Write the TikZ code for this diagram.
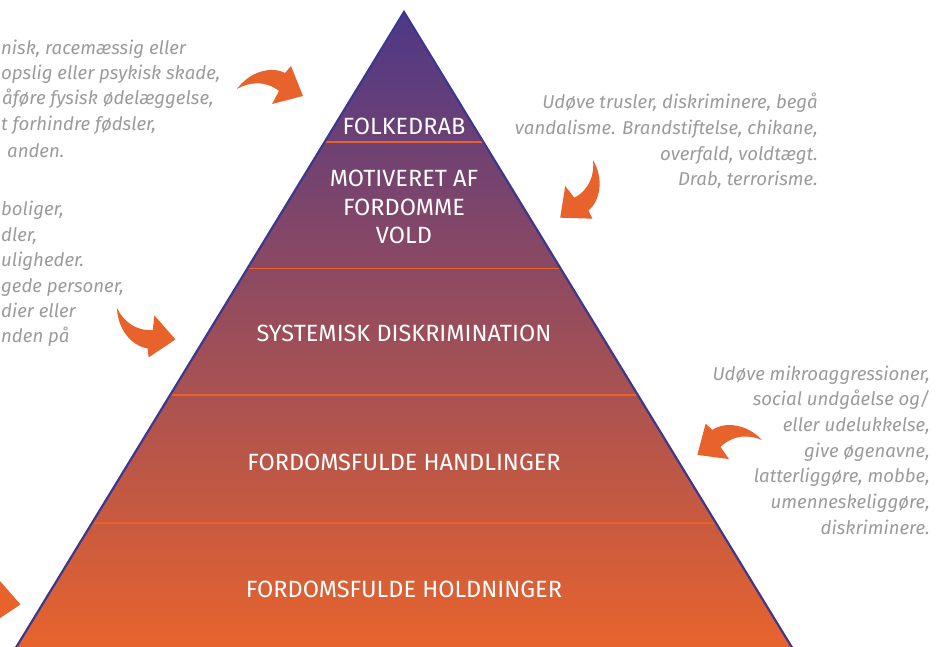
\documentclass[tikz,border=0pt]{standalone}
\usepackage{fontspec}
\setmainfont{Fira Sans}
\usetikzlibrary{calc,positioning}

\definecolor{pyrtop}{RGB}{78,56,134}
\definecolor{pyrmid}{RGB}{160,76,100}
\definecolor{pyrbot}{RGB}{234,100,44}
\definecolor{pyredge}{RGB}{62,56,140}
\definecolor{hateorange}{RGB}{232,98,44}
\definecolor{notegray}{RGB}{155,155,155}

\tikzset{
  level/.style={text=white, align=center, inner sep=0pt,
    font=\fontsize{23.5}{28.5}\selectfont},
  note/.style={text=notegray, inner sep=0pt,
    font=\fontsize{18.6}{25.7}\selectfont\itshape},
  cutnote/.style={note, anchor=mid west},
  sepline/.style={draw=hateorange, line width=1.3pt},
  pics/bentarrow/.style={code={
    \fill[hateorange] (0,0) .. controls (13,-18) and (35,-23) .. (48,-16)
      -- (54,-23) -- (66,7) -- (35,15) -- (42,2)
      .. controls (28,-9) and (12,-7) .. cycle;
  }}
}

\begin{document}
\begin{tikzpicture}[x=1pt, y=-1pt]
  \clip (0,0) rectangle (939,646);

  % Pyramid
  \coordinate (top) at (404,12);
  \coordinate (bl) at (9,659);
  \coordinate (br) at (799,659);
  \shade[top color=pyrtop, middle color=pyrmid, bottom color=pyrbot]
    (top) -- (bl) -- (br) -- cycle;
  \foreach \t in {0.201,0.396,0.592,0.790}
    \draw[sepline] ($(top)!\t!(bl)$) -- ($(top)!\t!(br)$);
  \draw[pyredge, line width=2.2pt] (top) -- (bl) -- (br) -- cycle;

  % Levels
  \node[level] (folkedrab) at (404,126) {FOLKEDRAB};
  \node[level] (vold) at (404,207) {MOTIVERET AF\\FORDOMME\\VOLD};
  \node[level] (system) at (404,333) {SYSTEMISK DISKRIMINATION};
  \node[level] (handlinger) at (404,462) {FORDOMSFULDE HANDLINGER};
  \node[level] (holdninger) at (404,589) {FORDOMSFULDE HOLDNINGER};

  % Notes
  \node[note, align=right, anchor=east] (notevold) at (818,141)
    {Udøve trusler, diskriminere, begå\\vandalisme. Brandstiftelse, chikane,\\overfald, voldtægt.\\Drab, terrorisme.};
  \node[note, align=right, anchor=east] (notehandl) at (930,450)
    {Udøve mikroaggressioner,\\social undgåelse og/\\eller udelukkelse,\\give øgenavne,\\latterliggøre, mobbe,\\umenneskeliggøre,\\diskriminere.};

  \node[cutnote] (folk1) at (1,52) {nisk, racemæssig eller};
  \node[cutnote] (folk2) at (1,77) {opslig eller psykisk skade,};
  \node[cutnote] (folk3) at (2,102) {åføre fysisk ødelæggelse,};
  \node[cutnote] (folk4) at (1,128) {t forhindre fødsler,};
  \node[cutnote] (folk5) at (7,155) {anden.};

  \node[cutnote] (sys1) at (1,213) {boliger,};
  \node[cutnote] (sys2) at (1,239) {dler,};
  \node[cutnote] (sys3) at (1,264) {uligheder.};
  \node[cutnote] (sys4) at (1,290) {gede personer,};
  \node[cutnote] (sys5) at (1,315) {dier eller};
  \node[cutnote] (sys6) at (1,340) {nden på};

  % Arrows
  \pic at (237,89) {bentarrow};
  \pic[rotate=-113.6] at (593,160) {bentarrow};
  \pic[rotate=145.7, xscale=-1] at (117,308) {bentarrow};
  \pic[rotate=6.9, xscale=-1] at (762,440) {bentarrow};
  \pic[rotate=145.7, xscale=-1] at (-38,573) {bentarrow};
\end{tikzpicture}
\end{document}
